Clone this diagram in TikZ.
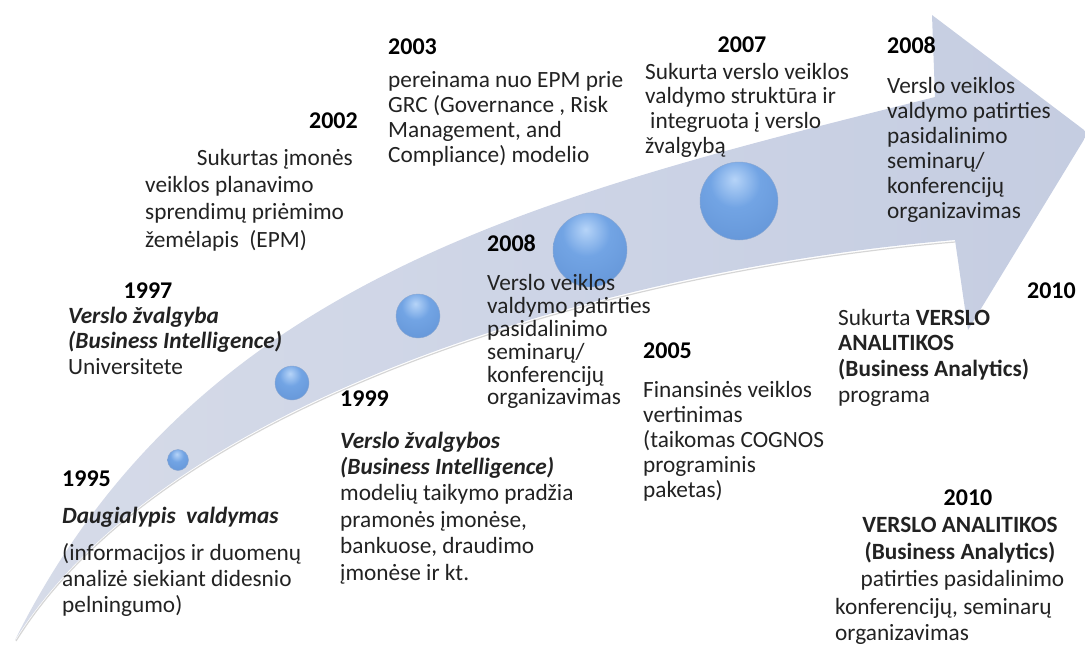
\documentclass[tikz,border=0pt]{standalone}
\usepackage{fontspec}
\setmainfont{Carlito}
\definecolor{bandL}{HTML}{D6DBE8}
\definecolor{bandM}{HTML}{CDD4E6}
\definecolor{bandR}{HTML}{C5CDE1}
\definecolor{txt}{HTML}{222222}
\definecolor{bubhi}{HTML}{B6D4F8}
\definecolor{bubmid}{HTML}{72A4E4}
\definecolor{bubdark}{HTML}{3D6CB3}
\pgfdeclareradialshading{bubblesh}{\pgfpoint{-3bp}{14bp}}{color(0bp)=(bubhi); color(16bp)=(bubmid); color(38bp)=(bubmid!75!bubdark); color(52bp)=(bubdark); color(100bp)=(bubdark)}
\newcommand\mytab[1]{\begin{tabular}[t]{@{}l@{}}#1\end{tabular}}
\newcommand\mytabc[1]{\begin{tabular}[t]{@{}c@{}}#1\end{tabular}}
\tikzset{
  yr/.style={font=\fontsize{24}{28}\selectfont\bfseries, text=black, inner sep=0pt},
  body/.style={font=\fontsize{23.3}{#1}\selectfont, text=txt, inner sep=0pt},
  body/.default=25,
  bubble/.style={shading=bubblesh, draw=bubdark!60, line width=0.4pt},
}
\begin{document}
\begin{tikzpicture}[x=1pt,y=-1pt]
\useasboundingbox (0,0) rectangle (1085,645);
% arrow band
\shade[left color=bandL, right color=bandR, middle color=bandM]
  (15,640) .. controls (195,280) and (535,197) .. (935,97)
  -- (932,15) -- (1088,133) -- (968,330) -- (955,240)
  .. controls (600,270) and (165,400) .. (15,640) -- cycle;
\draw[black!40, opacity=0.4, line width=1.2pt]
  (955,242) .. controls (600,272) and (165,402) .. (16,641);
% bubbles
\shade[bubble] (178,460) circle (10.5);
\shade[bubble] (292,383) circle (17);
\shade[bubble] (418,316) circle (22);
\shade[bubble] (590,250) circle (37);
\shade[bubble] (739,201) circle (39);
% 2003
\node[yr, anchor=base west] (y2003) at (388,54) {2003};
\node[body, anchor=base west] (t2003) at (388,87) {\mytab{pereinama nuo EPM prie\\GRC (Governance , Risk\\Management, and\\Compliance) modelio}};
% 2007
\node[yr, anchor=base] (y2007) at (742,52) {2007};
\node[body=24.7, anchor=base west] (t2007) at (645,79) {\mytab{Sukurta verslo veiklos\\valdymo struktūra ir\\\hspace{5pt}integruota į verslo\\žvalgybą}};
% 2008 right
\node[yr, anchor=base west] (y2008r) at (887,53) {2008};
\node[body=25, anchor=base west] (t2008r) at (887,93) {\mytab{Verslo veiklos\\valdymo patirties\\pasidalinimo\\seminarų/\\konferencijų\\organizavimas}};
% 2002
\node[yr, anchor=base east] (y2002) at (358,128) {2002};
\node[body, anchor=base east] (t2002a) at (353,165) {Sukurtas įmonės};
\node[body=27.5, anchor=base west] (t2002b) at (145,192) {\mytab{veiklos planavimo\\sprendimų priėmimo\\žemėlapis\ \ (EPM)}};
% 2008 middle
\node[yr, anchor=base west] (y2008m) at (487,251) {2008};
\node[body=22.8, anchor=base west] (t2008m) at (487,290) {\mytab{Verslo veiklos\\valdymo patirties\\pasidalinimo\\seminarų/\\konferencijų\\organizavimas}};
% 1997
\node[yr, anchor=base] (y1997) at (148,298) {1997};
\node[body=25.5, anchor=base west] (t1997) at (68,323) {\mytab{\textbf{\textit{Verslo žvalgyba}}\\\textbf{\textit{(Business Intelligence)}}\\Universitete}};
% 1999
\node[yr, anchor=base west] (y1999) at (340,406) {1999};
\node[body=26.4, anchor=base west] (t1999) at (340,448) {\mytab{\textbf{\textit{Verslo žvalgybos}}\\\textbf{\textit{(Business Intelligence)}}\\modelių taikymo pradžia\\pramonės įmonėse,\\bankuose, draudimo\\įmonėse ir kt.}};
% 1995
\node[yr, anchor=base west] (y1995) at (62,486) {1995};
\node[body, anchor=base west] (t1995a) at (62,523) {\textbf{\textit{Daugialypis\ \ valdymas}}};
\node[body=26, anchor=base west] (t1995b) at (62,560) {\mytab{(informacijos ir duomenų\\analizė siekiant didesnio\\pelningumo)}};
% 2005
\node[yr, anchor=base west] (y2005) at (643,358) {2005};
\node[body=25, anchor=base west] (t2005) at (643,397) {\mytab{Finansinės veiklos\\vertinimas\\(taikomas COGNOS\\programinis\\paketas)}};
% 2010 top
\node[yr, anchor=base east] (y2010a) at (1076,298) {2010};
\node[body=25.7, anchor=base west] (t2010a) at (838,325) {\mytab{Sukurta \textbf{VERSLO}\\\textbf{ANALITIKOS}\\\textbf{(Business Analytics)}\\programa}};
% 2010 bottom
\node[yr, anchor=base] (y2010b) at (968,505) {2010};
\node[body=27.3, anchor=base] (t2010b) at (960,532) {\mytabc{\textbf{VERSLO ANALITIKOS}\\\textbf{(Business Analytics)}\\\hspace{5pt}patirties pasidalinimo}};
\node[body=26.5, anchor=base west] (t2010c) at (835,614) {\mytab{konferencijų, seminarų\\organizavimas}};
\end{tikzpicture}
\end{document}
